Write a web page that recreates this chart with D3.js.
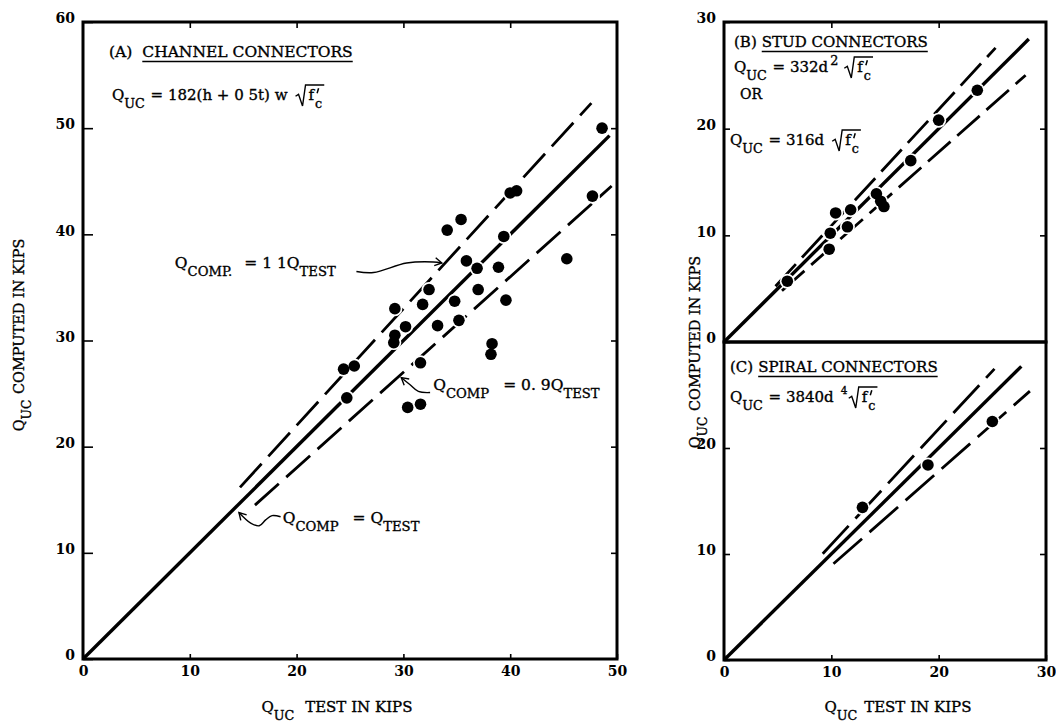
<!DOCTYPE html>
<html>
<head>
<meta charset="utf-8">
<script src="https://cdn.jsdelivr.net/npm/d3@7.9.0/dist/d3.min.js"></script>
<style>
body { margin: 0; background: #fff; }
svg { display: block; font-family: "DejaVu Serif", "Liberation Serif", serif; }
text { fill: #000; }
.lbl text, text.lbl { stroke: #000; stroke-width: 0.35px; }
</style>
</head>
<body>
<svg id="chart" width="1056" height="727"></svg>
<script>
// (A) channel connectors
const channelTest = [48.6, 40.0, 40.6, 47.7, 34.1, 35.4, 39.4, 45.3, 35.9, 36.9, 38.9, 32.4, 37.0, 31.8, 29.2,
  34.8, 39.6, 30.2, 33.2, 35.2, 29.2, 29.1, 38.3, 38.2, 31.6, 24.4, 25.4, 24.7, 30.4, 31.6];
const channelComputed = [50.0, 43.9, 44.1, 43.6, 40.4, 41.4, 39.8, 37.7, 37.5, 36.8, 36.9, 34.8, 34.8, 33.4, 33.0,
  33.7, 33.8, 31.3, 31.4, 31.9, 30.5, 29.8, 29.7, 28.7, 27.9, 27.3, 27.6, 24.6, 23.7, 24.0];

// (B) stud connectors
const studTest = [23.6, 20.0, 17.4, 14.2, 14.6, 14.9, 10.4, 11.8, 9.9, 11.5, 9.8, 5.9];
const studComputed = [23.6, 20.8, 17.0, 13.9, 13.2, 12.7, 12.1, 12.4, 10.2, 10.8, 8.7, 5.7];

// (C) spiral connectors
const spiralTest = [12.9, 19.0, 25.0];
const spiralComputed = [14.4, 18.4, 22.5];

// reference lines: Qcomp = ratio * Qtest, drawn between test values from..to
const lineRatios = [1.0, 1.1, 0.9];
const channelFrom = [0, 14.7, 16.1], channelTo = [49.3, 47.6, 49.5];
const studRatios = [1.0, 1.09, 0.89];
const studFrom = [0, 4.8, 5.4], studTo = [28.4, 25.3, 28.1];
const spiralFrom = [0, 9.2, 10.2], spiralTo = [27.7, 25.2, 28.5];

const channelXTicks = [0, 10, 20, 30, 40, 50];
const channelYTicks = [0, 10, 20, 30, 40, 50, 60];
const smallXTicks = [0, 10, 20, 30];
const studYTicks = [0, 10, 20, 30];
const spiralYTicks = [0, 10, 20];

// annotation leaders, in data units of panel A (text end -> line)
const leaderUpper = [[25.6, 36.5], [27.2, 36.4], [30.3, 37.3], [32.8, 37.4], [33.6, 37.3]];
const leaderLower = [[32.5, 25.1], [31.4, 25.2], [30.6, 25.85], [29.8, 26.5]];
const leaderEqual = [[18.5, 13.4], [17.7, 13.5], [17.1, 13.1], [16.5, 12.55], [15.7, 12.8], [14.6, 13.8]];

const svg = d3.select('#chart');

svg.append('defs').append('marker')
  .attr('id', 'arrow')
  .attr('viewBox', '-9 -5 10 10')
  .attr('refX', 0).attr('refY', 0)
  .attr('markerWidth', 10).attr('markerHeight', 10)
  .attr('markerUnits', 'userSpaceOnUse')
  .attr('orient', 'auto')
  .append('path')
  .attr('d', 'M-7,-4 L0,0 L-7,4')
  .attr('fill', 'none').attr('stroke', '#000').attr('stroke-width', 1.4);

const xA = d3.scaleLinear().domain([0, 50]).range([83, 617]);
const yA = d3.scaleLinear().domain([0, 60]).range([659, 22]);
const xBC = d3.scaleLinear().domain([0, 30]).range([724, 1046]);
const yB = d3.scaleLinear().domain([0, 30]).range([342, 22]);
const yC = d3.scaleLinear().domain([0, 30]).range([660, 342]);

// text with sub/superscripts: parts = [text, 'n'|'sub'|'sup', dx]
function richText(g, x, y, parts, size, rotate) {
  const t = g.append('text').attr('class', 'lbl').attr('x', x).attr('y', y).attr('font-size', size);
  if (rotate) t.attr('transform', `rotate(-90,${x},${y})`);
  let shift = 0;
  parts.forEach(([s, kind, dx]) => {
    const target = kind === 'sub' ? size * 0.5 : kind === 'sup' ? -size * 0.45 : 0;
    const ts = t.append('tspan').text(s).attr('dy', target - shift);
    if (kind !== 'n') ts.attr('font-size', size * 0.85);
    if (dx) ts.attr('dx', dx);
    shift = target;
  });
  return t;
}

// square root of f'c drawn with a radical sign, prime drawn as a stroke
function radical(g, x, y, size, index) {
  const t = richText(g, x + 13, y, [['f', 'n'], ['c', 'sub', 1]], size);
  const w = t.node().getComputedTextLength();
  const fw = t.node().getSubStringLength(0, 1);
  const px = x + 13 + fw + 3;
  g.append('path')
    .attr('d', `M${px + 1.5},${y - size * 0.78} L${px},${y - size * 0.45}`)
    .attr('stroke', '#000').attr('stroke-width', 1.5);
  const top = y - size * 1.0;
  g.append('path')
    .attr('d', `M${x},${y - size * 0.25} L${x + 3},${y - size * 0.38} L${x + 7},${y + size * 0.4} L${x + 10},${top} H${x + 16 + w}`)
    .attr('fill', 'none').attr('stroke', '#000').attr('stroke-width', 1.4);
  if (index) {
    g.append('text').attr('class', 'lbl').attr('x', x - 8).attr('y', y - size * 0.55)
      .attr('font-size', size * 0.7).text(index);
  }
}

function formula(g, x, y, parts, size, index) {
  const t = richText(g, x, y, parts, size);
  const len = t.node().getComputedTextLength();
  radical(g, x + len + (index ? 16 : 9), y, size, index);
}

function title(g, x, y, tag, name, size, gap) {
  const a = g.append('text').attr('class', 'lbl').attr('x', x).attr('y', y).attr('font-size', size).text(tag);
  const x2 = x + a.node().getComputedTextLength() + gap;
  const b = g.append('text').attr('class', 'lbl').attr('x', x2).attr('y', y).attr('font-size', size).text(name);
  const w = b.node().getComputedTextLength();
  g.append('line').attr('x1', x2).attr('x2', x2 + w).attr('y1', y + 4.5).attr('y2', y + 4.5)
    .attr('stroke', '#000').attr('stroke-width', 1.4);
}

function styleAxis(a) {
  a.attr('font-family', '"DejaVu Serif", serif').attr('font-size', 14).attr('font-weight', 'bold');
  a.select('.domain').remove();
  a.selectAll('line').attr('stroke-width', 1.6);
}

function drawPanel(o) {
  const g = svg.append('g');
  const x = o.x, y = o.y;
  const [x0, x1] = x.range(), [y0, y1] = y.range();

  // reference lines
  const line = d3.line().x(d => x(d[0])).y(d => y(d[1]));
  o.ratios.forEach((r, i) => {
    g.append('path')
      .attr('d', line([[o.from[i], r * o.from[i]], [o.to[i], r * o.to[i]]]))
      .attr('fill', 'none').attr('stroke', '#000')
      .attr('stroke-width', i === 0 ? 3.4 : 2.8)
      .attr('stroke-dasharray', i === 0 ? null : o.dash);
  });

  // points with a white halo that breaks the lines under them
  const pts = d3.zip(o.test, o.computed);
  g.selectAll('circle.halo').data(pts).join('circle').attr('class', 'halo')
    .attr('cx', d => x(d[0])).attr('cy', d => y(d[1])).attr('r', 7.5).attr('fill', '#fff');
  g.selectAll('circle.pt').data(pts).join('circle').attr('class', 'pt')
    .attr('cx', d => x(d[0])).attr('cy', d => y(d[1])).attr('r', 5.8).attr('fill', '#000');

  // frame
  g.append('rect').attr('x', x0).attr('y', y1).attr('width', x1 - x0).attr('height', y0 - y1)
    .attr('fill', 'none').attr('stroke', '#000').attr('stroke-width', 3);

  const inner = v => v.slice(1, -1);
  g.append('g').attr('transform', `translate(${x0},0)`)
    .call(d3.axisLeft(y).tickValues(o.yTicks).tickSize(-o.leftTick).tickSizeOuter(0).tickPadding(8))
    .call(styleAxis)
    .call(a => a.selectAll('text').attr('dy', '0.05em'));
  g.append('g').attr('transform', `translate(${x1},0)`)
    .call(d3.axisRight(y).tickValues(inner(o.yTicks.concat(o.yTicks.length < 4 ? [30] : []))).tickSize(-6).tickSizeOuter(0).tickFormat(''))
    .call(styleAxis);
  if (o.top) {
    g.append('g').attr('transform', `translate(0,${y1})`)
      .call(d3.axisTop(x).tickValues(inner(o.xTicks)).tickSize(-6).tickSizeOuter(0).tickFormat(''))
      .call(styleAxis);
  }
  if (o.bottom) {
    g.append('g').attr('transform', `translate(0,${y0})`)
      .call(d3.axisBottom(x).tickValues(o.xTicks).tickSize(-5).tickSizeOuter(0).tickPadding(7))
      .call(styleAxis);
  }
  return g;
}

// panel A
const gA = drawPanel({ x: xA, y: yA, test: channelTest, computed: channelComputed,
  ratios: lineRatios, from: channelFrom, to: channelTo, dash: '32,10',
  xTicks: channelXTicks, yTicks: channelYTicks, leftTick: 10, top: true, bottom: true });

// panel B
const gB = drawPanel({ x: xBC, y: yB, test: studTest, computed: studComputed,
  ratios: studRatios, from: studFrom, to: studTo, dash: '30,9',
  xTicks: smallXTicks, yTicks: studYTicks, leftTick: 6, top: true, bottom: false });

// panel C
const gC = drawPanel({ x: xBC, y: yC, test: spiralTest, computed: spiralComputed,
  ratios: studRatios, from: spiralFrom, to: spiralTo, dash: '38,10',
  xTicks: smallXTicks, yTicks: spiralYTicks, leftTick: 6, top: false, bottom: true });

// leaders
const leader = d3.line().x(d => xA(d[0])).y(d => yA(d[1])).curve(d3.curveCatmullRom);
[leaderUpper, leaderLower, leaderEqual].forEach(pts => {
  gA.append('path').attr('d', leader(pts))
    .attr('fill', 'none').attr('stroke', '#000').attr('stroke-width', 1.4)
    .attr('marker-end', 'url(#arrow)');
});

// panel texts
title(gA, 109, 57, '(A)', 'CHANNEL CONNECTORS', 15.5, 10);
formula(gA, 112, 100, [['Q', 'n'], ['UC', 'sub'], [' = 182(h + 0 5t) w', 'n', 1]], 15);

richText(gA, xA(8.6), yA(36.8), [['Q', 'n'], ['COMP.', 'sub'], ['= 1 1Q', 'n', 12], ['TEST', 'sub']], 15.5);
richText(gA, xA(32.8), yA(25.3), [['Q', 'n'], ['COMP', 'sub'], ['= 0. 9Q', 'n', 14], ['TEST', 'sub']], 15.5);
richText(gA, xA(18.7), yA(12.8), [['Q', 'n'], ['COMP', 'sub'], ['= Q', 'n', 14], ['TEST', 'sub']], 15.5);

title(gB, 734, 47, '(B)', 'STUD CONNECTORS', 15, 5);
formula(gB, 734, 72, [['Q', 'n'], ['UC', 'sub'], [' = 332d', 'n', 1], ['2', 'sup', 2]], 15);
gB.append('text').attr('class', 'lbl').attr('x', 740).attr('y', 99).attr('font-size', 14).text('OR');
formula(gB, 730, 145, [['Q', 'n'], ['UC', 'sub'], [' = 316d', 'n', 1]], 15);

title(gC, 730, 372, '(C)', 'SPIRAL CONNECTORS', 15, 5);
formula(gC, 730, 402, [['Q', 'n'], ['UC', 'sub'], [' = 3840d', 'n', 1]], 15, '4');

// axis titles
richText(svg, 24, 335, [['Q', 'n'], ['UC', 'sub'], [' COMPUTED IN KIPS', 'n', 1]], 14.5, true).attr('text-anchor', 'middle');
richText(svg, 700, 352, [['Q', 'n'], ['UC', 'sub'], [' COMPUTED IN KIPS', 'n', 1]], 14.5, true).attr('text-anchor', 'middle');
richText(svg, 337, 712, [['Q', 'n'], ['UC', 'sub'], [' TEST IN KIPS', 'n', 6]], 15).attr('text-anchor', 'middle');
richText(svg, 898, 712, [['Q', 'n'], ['UC', 'sub'], [' TEST IN KIPS', 'n', 2]], 15).attr('text-anchor', 'middle');
</script>
</body>
</html>
